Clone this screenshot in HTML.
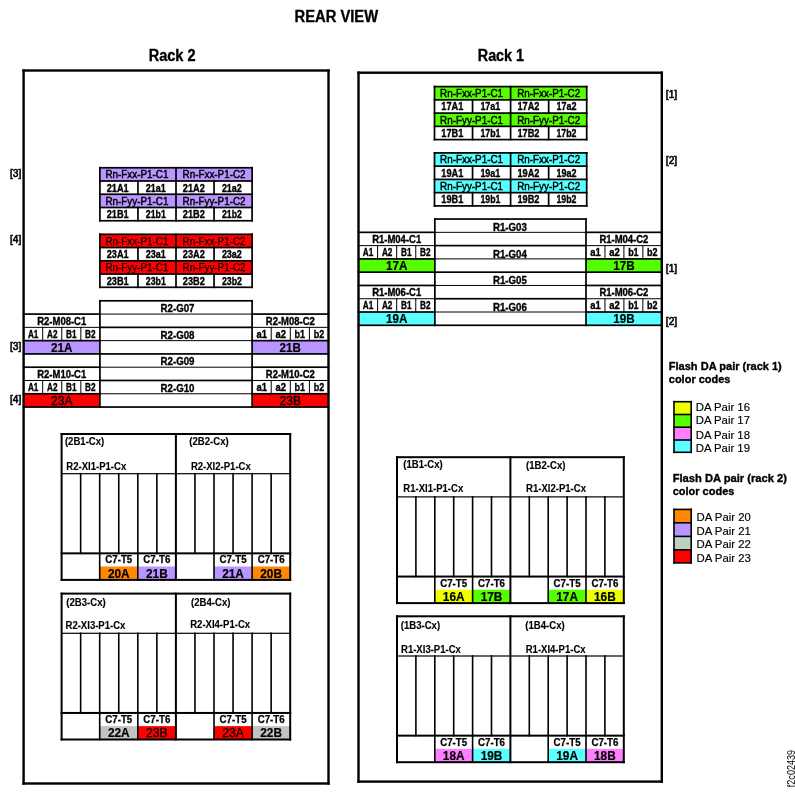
<!DOCTYPE html>
<html><head><meta charset="utf-8"><style>
html,body{margin:0;padding:0;background:#fff;}
svg{display:block;transform:translateZ(0);will-change:transform;}
text{font-family:"Liberation Sans",sans-serif;fill:#000;}
</style></head><body>
<svg width="795" height="796" viewBox="0 0 795 796">
<rect x="0" y="0" width="795" height="796" fill="#fff"/>
<text x="294.60" y="22.30" font-size="16" font-weight="bold" text-anchor="start" textLength="83.50" lengthAdjust="spacingAndGlyphs" stroke="#000" stroke-width="0.35">REAR VIEW</text>
<text x="148.70" y="60.80" font-size="16" font-weight="bold" text-anchor="start" textLength="46.80" lengthAdjust="spacingAndGlyphs" stroke="#000" stroke-width="0.35">Rack 2</text>
<text x="477.80" y="60.80" font-size="16" font-weight="bold" text-anchor="start" textLength="46.20" lengthAdjust="spacingAndGlyphs" stroke="#000" stroke-width="0.35">Rack 1</text>
<rect x="99.90" y="167.75" width="152.20" height="13.25" fill="#b995ff"/>
<rect x="99.90" y="194.25" width="152.20" height="13.25" fill="#b995ff"/>
<rect x="99.05" y="166.90" width="153.90" height="1.70" fill="#000"/>
<rect x="99.05" y="180.15" width="153.90" height="1.70" fill="#000"/>
<rect x="99.05" y="193.40" width="153.90" height="1.70" fill="#000"/>
<rect x="99.05" y="206.65" width="153.90" height="1.70" fill="#000"/>
<rect x="99.05" y="219.90" width="153.90" height="1.70" fill="#000"/>
<rect x="99.05" y="166.90" width="1.70" height="54.70" fill="#000"/>
<rect x="175.15" y="166.90" width="1.70" height="54.70" fill="#000"/>
<rect x="251.25" y="166.90" width="1.70" height="54.70" fill="#000"/>
<rect x="137.10" y="180.15" width="1.70" height="14.95" fill="#000"/>
<rect x="213.20" y="180.15" width="1.70" height="14.95" fill="#000"/>
<rect x="137.10" y="206.65" width="1.70" height="14.95" fill="#000"/>
<rect x="213.20" y="206.65" width="1.70" height="14.95" fill="#000"/>
<text x="136.95" y="178.15" font-size="10.6" text-anchor="middle" textLength="63.00" lengthAdjust="spacingAndGlyphs" stroke="#000" stroke-width="0.45">Rn-Fxx-P1-C1</text>
<text x="214.05" y="178.15" font-size="10.6" text-anchor="middle" textLength="63.00" lengthAdjust="spacingAndGlyphs" stroke="#000" stroke-width="0.45">Rn-Fxx-P1-C2</text>
<text x="136.95" y="204.65" font-size="10.6" text-anchor="middle" textLength="63.00" lengthAdjust="spacingAndGlyphs" stroke="#000" stroke-width="0.45">Rn-Fyy-P1-C1</text>
<text x="214.05" y="204.65" font-size="10.6" text-anchor="middle" textLength="63.00" lengthAdjust="spacingAndGlyphs" stroke="#000" stroke-width="0.45">Rn-Fyy-P1-C2</text>
<text x="117.72" y="191.60" font-size="10.3" font-weight="bold" text-anchor="middle" textLength="22.00" lengthAdjust="spacingAndGlyphs" stroke="#000" stroke-width="0.35">21A1</text>
<text x="155.78" y="191.60" font-size="10.3" font-weight="bold" text-anchor="middle" textLength="20.00" lengthAdjust="spacingAndGlyphs" stroke="#000" stroke-width="0.35">21a1</text>
<text x="193.83" y="191.60" font-size="10.3" font-weight="bold" text-anchor="middle" textLength="22.00" lengthAdjust="spacingAndGlyphs" stroke="#000" stroke-width="0.35">21A2</text>
<text x="231.88" y="191.60" font-size="10.3" font-weight="bold" text-anchor="middle" textLength="20.00" lengthAdjust="spacingAndGlyphs" stroke="#000" stroke-width="0.35">21a2</text>
<text x="117.72" y="218.10" font-size="10.3" font-weight="bold" text-anchor="middle" textLength="22.00" lengthAdjust="spacingAndGlyphs" stroke="#000" stroke-width="0.35">21B1</text>
<text x="155.78" y="218.10" font-size="10.3" font-weight="bold" text-anchor="middle" textLength="20.00" lengthAdjust="spacingAndGlyphs" stroke="#000" stroke-width="0.35">21b1</text>
<text x="193.83" y="218.10" font-size="10.3" font-weight="bold" text-anchor="middle" textLength="22.00" lengthAdjust="spacingAndGlyphs" stroke="#000" stroke-width="0.35">21B2</text>
<text x="231.88" y="218.10" font-size="10.3" font-weight="bold" text-anchor="middle" textLength="20.00" lengthAdjust="spacingAndGlyphs" stroke="#000" stroke-width="0.35">21b2</text>
<rect x="99.90" y="234.30" width="152.20" height="13.25" fill="#ff0000"/>
<rect x="99.90" y="260.80" width="152.20" height="13.25" fill="#ff0000"/>
<rect x="99.05" y="233.45" width="153.90" height="1.70" fill="#000"/>
<rect x="99.05" y="246.70" width="153.90" height="1.70" fill="#000"/>
<rect x="99.05" y="259.95" width="153.90" height="1.70" fill="#000"/>
<rect x="99.05" y="273.20" width="153.90" height="1.70" fill="#000"/>
<rect x="99.05" y="286.45" width="153.90" height="1.70" fill="#000"/>
<rect x="99.05" y="233.45" width="1.70" height="54.70" fill="#000"/>
<rect x="175.15" y="233.45" width="1.70" height="54.70" fill="#000"/>
<rect x="251.25" y="233.45" width="1.70" height="54.70" fill="#000"/>
<rect x="137.10" y="246.70" width="1.70" height="14.95" fill="#000"/>
<rect x="213.20" y="246.70" width="1.70" height="14.95" fill="#000"/>
<rect x="137.10" y="273.20" width="1.70" height="14.95" fill="#000"/>
<rect x="213.20" y="273.20" width="1.70" height="14.95" fill="#000"/>
<text x="136.95" y="244.70" font-size="10.6" text-anchor="middle" textLength="63.00" lengthAdjust="spacingAndGlyphs" stroke="#000" stroke-width="0.25">Rn-Fxx-P1-C1</text>
<text x="214.05" y="244.70" font-size="10.6" text-anchor="middle" textLength="63.00" lengthAdjust="spacingAndGlyphs" stroke="#000" stroke-width="0.25">Rn-Fxx-P1-C2</text>
<text x="136.95" y="271.20" font-size="10.6" text-anchor="middle" textLength="63.00" lengthAdjust="spacingAndGlyphs" stroke="#000" stroke-width="0.25">Rn-Fyy-P1-C1</text>
<text x="214.05" y="271.20" font-size="10.6" text-anchor="middle" textLength="63.00" lengthAdjust="spacingAndGlyphs" stroke="#000" stroke-width="0.25">Rn-Fyy-P1-C2</text>
<text x="117.72" y="258.15" font-size="10.3" font-weight="bold" text-anchor="middle" textLength="22.00" lengthAdjust="spacingAndGlyphs" stroke="#000" stroke-width="0.35">23A1</text>
<text x="155.78" y="258.15" font-size="10.3" font-weight="bold" text-anchor="middle" textLength="20.00" lengthAdjust="spacingAndGlyphs" stroke="#000" stroke-width="0.35">23a1</text>
<text x="193.83" y="258.15" font-size="10.3" font-weight="bold" text-anchor="middle" textLength="22.00" lengthAdjust="spacingAndGlyphs" stroke="#000" stroke-width="0.35">23A2</text>
<text x="231.88" y="258.15" font-size="10.3" font-weight="bold" text-anchor="middle" textLength="20.00" lengthAdjust="spacingAndGlyphs" stroke="#000" stroke-width="0.35">23a2</text>
<text x="117.72" y="284.65" font-size="10.3" font-weight="bold" text-anchor="middle" textLength="22.00" lengthAdjust="spacingAndGlyphs" stroke="#000" stroke-width="0.35">23B1</text>
<text x="155.78" y="284.65" font-size="10.3" font-weight="bold" text-anchor="middle" textLength="20.00" lengthAdjust="spacingAndGlyphs" stroke="#000" stroke-width="0.35">23b1</text>
<text x="193.83" y="284.65" font-size="10.3" font-weight="bold" text-anchor="middle" textLength="22.00" lengthAdjust="spacingAndGlyphs" stroke="#000" stroke-width="0.35">23B2</text>
<text x="231.88" y="284.65" font-size="10.3" font-weight="bold" text-anchor="middle" textLength="20.00" lengthAdjust="spacingAndGlyphs" stroke="#000" stroke-width="0.35">23b2</text>
<rect x="434.50" y="86.60" width="152.20" height="13.25" fill="#55ff00"/>
<rect x="434.50" y="113.10" width="152.20" height="13.25" fill="#55ff00"/>
<rect x="433.65" y="85.75" width="153.90" height="1.70" fill="#000"/>
<rect x="433.65" y="99.00" width="153.90" height="1.70" fill="#000"/>
<rect x="433.65" y="112.25" width="153.90" height="1.70" fill="#000"/>
<rect x="433.65" y="125.50" width="153.90" height="1.70" fill="#000"/>
<rect x="433.65" y="138.75" width="153.90" height="1.70" fill="#000"/>
<rect x="433.65" y="85.75" width="1.70" height="54.70" fill="#000"/>
<rect x="509.75" y="85.75" width="1.70" height="54.70" fill="#000"/>
<rect x="585.85" y="85.75" width="1.70" height="54.70" fill="#000"/>
<rect x="471.70" y="99.00" width="1.70" height="14.95" fill="#000"/>
<rect x="547.80" y="99.00" width="1.70" height="14.95" fill="#000"/>
<rect x="471.70" y="125.50" width="1.70" height="14.95" fill="#000"/>
<rect x="547.80" y="125.50" width="1.70" height="14.95" fill="#000"/>
<text x="471.55" y="97.00" font-size="10.6" text-anchor="middle" textLength="63.00" lengthAdjust="spacingAndGlyphs" stroke="#000" stroke-width="0.45">Rn-Fxx-P1-C1</text>
<text x="548.65" y="97.00" font-size="10.6" text-anchor="middle" textLength="63.00" lengthAdjust="spacingAndGlyphs" stroke="#000" stroke-width="0.45">Rn-Fxx-P1-C2</text>
<text x="471.55" y="123.50" font-size="10.6" text-anchor="middle" textLength="63.00" lengthAdjust="spacingAndGlyphs" stroke="#000" stroke-width="0.45">Rn-Fyy-P1-C1</text>
<text x="548.65" y="123.50" font-size="10.6" text-anchor="middle" textLength="63.00" lengthAdjust="spacingAndGlyphs" stroke="#000" stroke-width="0.45">Rn-Fyy-P1-C2</text>
<text x="452.32" y="110.45" font-size="10.3" font-weight="bold" text-anchor="middle" textLength="22.00" lengthAdjust="spacingAndGlyphs" stroke="#000" stroke-width="0.35">17A1</text>
<text x="490.38" y="110.45" font-size="10.3" font-weight="bold" text-anchor="middle" textLength="20.00" lengthAdjust="spacingAndGlyphs" stroke="#000" stroke-width="0.35">17a1</text>
<text x="528.42" y="110.45" font-size="10.3" font-weight="bold" text-anchor="middle" textLength="22.00" lengthAdjust="spacingAndGlyphs" stroke="#000" stroke-width="0.35">17A2</text>
<text x="566.47" y="110.45" font-size="10.3" font-weight="bold" text-anchor="middle" textLength="20.00" lengthAdjust="spacingAndGlyphs" stroke="#000" stroke-width="0.35">17a2</text>
<text x="452.32" y="136.95" font-size="10.3" font-weight="bold" text-anchor="middle" textLength="22.00" lengthAdjust="spacingAndGlyphs" stroke="#000" stroke-width="0.35">17B1</text>
<text x="490.38" y="136.95" font-size="10.3" font-weight="bold" text-anchor="middle" textLength="20.00" lengthAdjust="spacingAndGlyphs" stroke="#000" stroke-width="0.35">17b1</text>
<text x="528.42" y="136.95" font-size="10.3" font-weight="bold" text-anchor="middle" textLength="22.00" lengthAdjust="spacingAndGlyphs" stroke="#000" stroke-width="0.35">17B2</text>
<text x="566.47" y="136.95" font-size="10.3" font-weight="bold" text-anchor="middle" textLength="20.00" lengthAdjust="spacingAndGlyphs" stroke="#000" stroke-width="0.35">17b2</text>
<rect x="434.50" y="152.90" width="152.20" height="13.25" fill="#5affff"/>
<rect x="434.50" y="179.40" width="152.20" height="13.25" fill="#5affff"/>
<rect x="433.65" y="152.05" width="153.90" height="1.70" fill="#000"/>
<rect x="433.65" y="165.30" width="153.90" height="1.70" fill="#000"/>
<rect x="433.65" y="178.55" width="153.90" height="1.70" fill="#000"/>
<rect x="433.65" y="191.80" width="153.90" height="1.70" fill="#000"/>
<rect x="433.65" y="205.05" width="153.90" height="1.70" fill="#000"/>
<rect x="433.65" y="152.05" width="1.70" height="54.70" fill="#000"/>
<rect x="509.75" y="152.05" width="1.70" height="54.70" fill="#000"/>
<rect x="585.85" y="152.05" width="1.70" height="54.70" fill="#000"/>
<rect x="471.70" y="165.30" width="1.70" height="14.95" fill="#000"/>
<rect x="547.80" y="165.30" width="1.70" height="14.95" fill="#000"/>
<rect x="471.70" y="191.80" width="1.70" height="14.95" fill="#000"/>
<rect x="547.80" y="191.80" width="1.70" height="14.95" fill="#000"/>
<text x="471.55" y="163.30" font-size="10.6" text-anchor="middle" textLength="63.00" lengthAdjust="spacingAndGlyphs" stroke="#000" stroke-width="0.45">Rn-Fxx-P1-C1</text>
<text x="548.65" y="163.30" font-size="10.6" text-anchor="middle" textLength="63.00" lengthAdjust="spacingAndGlyphs" stroke="#000" stroke-width="0.45">Rn-Fxx-P1-C2</text>
<text x="471.55" y="189.80" font-size="10.6" text-anchor="middle" textLength="63.00" lengthAdjust="spacingAndGlyphs" stroke="#000" stroke-width="0.45">Rn-Fyy-P1-C1</text>
<text x="548.65" y="189.80" font-size="10.6" text-anchor="middle" textLength="63.00" lengthAdjust="spacingAndGlyphs" stroke="#000" stroke-width="0.45">Rn-Fyy-P1-C2</text>
<text x="452.32" y="176.75" font-size="10.3" font-weight="bold" text-anchor="middle" textLength="22.00" lengthAdjust="spacingAndGlyphs" stroke="#000" stroke-width="0.35">19A1</text>
<text x="490.38" y="176.75" font-size="10.3" font-weight="bold" text-anchor="middle" textLength="20.00" lengthAdjust="spacingAndGlyphs" stroke="#000" stroke-width="0.35">19a1</text>
<text x="528.42" y="176.75" font-size="10.3" font-weight="bold" text-anchor="middle" textLength="22.00" lengthAdjust="spacingAndGlyphs" stroke="#000" stroke-width="0.35">19A2</text>
<text x="566.47" y="176.75" font-size="10.3" font-weight="bold" text-anchor="middle" textLength="20.00" lengthAdjust="spacingAndGlyphs" stroke="#000" stroke-width="0.35">19a2</text>
<text x="452.32" y="203.25" font-size="10.3" font-weight="bold" text-anchor="middle" textLength="22.00" lengthAdjust="spacingAndGlyphs" stroke="#000" stroke-width="0.35">19B1</text>
<text x="490.38" y="203.25" font-size="10.3" font-weight="bold" text-anchor="middle" textLength="20.00" lengthAdjust="spacingAndGlyphs" stroke="#000" stroke-width="0.35">19b1</text>
<text x="528.42" y="203.25" font-size="10.3" font-weight="bold" text-anchor="middle" textLength="22.00" lengthAdjust="spacingAndGlyphs" stroke="#000" stroke-width="0.35">19B2</text>
<text x="566.47" y="203.25" font-size="10.3" font-weight="bold" text-anchor="middle" textLength="20.00" lengthAdjust="spacingAndGlyphs" stroke="#000" stroke-width="0.35">19b2</text>
<rect x="23.60" y="340.64" width="76.30" height="13.28" fill="#b995ff"/>
<rect x="252.10" y="340.64" width="76.40" height="13.28" fill="#b995ff"/>
<rect x="23.60" y="393.76" width="76.30" height="13.28" fill="#ff0000"/>
<rect x="252.10" y="393.76" width="76.40" height="13.28" fill="#ff0000"/>
<rect x="99.05" y="299.95" width="153.90" height="1.70" fill="#000"/>
<rect x="99.40" y="313.58" width="153.20" height="1.00" fill="#000"/>
<rect x="99.05" y="326.51" width="153.90" height="1.70" fill="#000"/>
<rect x="99.40" y="340.14" width="153.20" height="1.00" fill="#000"/>
<rect x="99.05" y="353.07" width="153.90" height="1.70" fill="#000"/>
<rect x="99.40" y="366.70" width="153.20" height="1.00" fill="#000"/>
<rect x="99.05" y="379.63" width="153.90" height="1.70" fill="#000"/>
<rect x="99.40" y="393.26" width="153.20" height="1.00" fill="#000"/>
<rect x="99.05" y="406.19" width="153.90" height="1.70" fill="#000"/>
<rect x="99.05" y="299.95" width="1.70" height="107.94" fill="#000"/>
<rect x="251.25" y="299.95" width="1.70" height="107.94" fill="#000"/>
<text x="177.50" y="312.00" font-size="11" font-weight="bold" text-anchor="middle" textLength="34.00" lengthAdjust="spacingAndGlyphs" stroke="#000" stroke-width="0.35">R2-G07</text>
<text x="177.50" y="338.56" font-size="11" font-weight="bold" text-anchor="middle" textLength="34.00" lengthAdjust="spacingAndGlyphs" stroke="#000" stroke-width="0.35">R2-G08</text>
<text x="177.50" y="365.12" font-size="11" font-weight="bold" text-anchor="middle" textLength="34.00" lengthAdjust="spacingAndGlyphs" stroke="#000" stroke-width="0.35">R2-G09</text>
<text x="177.50" y="391.68" font-size="11" font-weight="bold" text-anchor="middle" textLength="34.00" lengthAdjust="spacingAndGlyphs" stroke="#000" stroke-width="0.35">R2-G10</text>
<rect x="22.75" y="313.23" width="78.00" height="1.70" fill="#000"/>
<rect x="23.10" y="326.86" width="77.30" height="1.00" fill="#000"/>
<rect x="22.75" y="339.79" width="78.00" height="1.70" fill="#000"/>
<rect x="22.75" y="353.07" width="78.00" height="1.70" fill="#000"/>
<rect x="22.75" y="366.35" width="78.00" height="1.70" fill="#000"/>
<rect x="23.10" y="379.98" width="77.30" height="1.00" fill="#000"/>
<rect x="22.75" y="392.91" width="78.00" height="1.70" fill="#000"/>
<rect x="22.75" y="406.19" width="78.00" height="1.70" fill="#000"/>
<text x="61.75" y="324.68" font-size="10" font-weight="bold" text-anchor="middle" textLength="49.00" lengthAdjust="spacingAndGlyphs" stroke="#000" stroke-width="0.35">R2-M08-C1</text>
<rect x="42.18" y="326.86" width="1.00" height="14.28" fill="#000"/>
<rect x="61.25" y="326.86" width="1.00" height="14.28" fill="#000"/>
<rect x="80.33" y="326.86" width="1.00" height="14.28" fill="#000"/>
<text x="33.14" y="337.96" font-size="10" font-weight="bold" text-anchor="middle" textLength="10.50" lengthAdjust="spacingAndGlyphs" stroke="#000" stroke-width="0.35">A1</text>
<text x="52.21" y="337.96" font-size="10" font-weight="bold" text-anchor="middle" textLength="10.50" lengthAdjust="spacingAndGlyphs" stroke="#000" stroke-width="0.35">A2</text>
<text x="71.29" y="337.96" font-size="10" font-weight="bold" text-anchor="middle" textLength="10.50" lengthAdjust="spacingAndGlyphs" stroke="#000" stroke-width="0.35">B1</text>
<text x="90.36" y="337.96" font-size="10" font-weight="bold" text-anchor="middle" textLength="10.50" lengthAdjust="spacingAndGlyphs" stroke="#000" stroke-width="0.35">B2</text>
<text x="61.75" y="351.94" font-size="12.5" font-weight="bold" text-anchor="middle" textLength="21.40" lengthAdjust="spacingAndGlyphs" stroke="#000" stroke-width="0.2">21A</text>
<text x="61.75" y="377.80" font-size="10" font-weight="bold" text-anchor="middle" textLength="49.00" lengthAdjust="spacingAndGlyphs" stroke="#000" stroke-width="0.35">R2-M10-C1</text>
<rect x="42.18" y="379.98" width="1.00" height="14.28" fill="#000"/>
<rect x="61.25" y="379.98" width="1.00" height="14.28" fill="#000"/>
<rect x="80.33" y="379.98" width="1.00" height="14.28" fill="#000"/>
<text x="33.14" y="391.08" font-size="10" font-weight="bold" text-anchor="middle" textLength="10.50" lengthAdjust="spacingAndGlyphs" stroke="#000" stroke-width="0.35">A1</text>
<text x="52.21" y="391.08" font-size="10" font-weight="bold" text-anchor="middle" textLength="10.50" lengthAdjust="spacingAndGlyphs" stroke="#000" stroke-width="0.35">A2</text>
<text x="71.29" y="391.08" font-size="10" font-weight="bold" text-anchor="middle" textLength="10.50" lengthAdjust="spacingAndGlyphs" stroke="#000" stroke-width="0.35">B1</text>
<text x="90.36" y="391.08" font-size="10" font-weight="bold" text-anchor="middle" textLength="10.50" lengthAdjust="spacingAndGlyphs" stroke="#000" stroke-width="0.35">B2</text>
<text x="61.75" y="405.06" font-size="12.5" text-anchor="middle" textLength="21.40" lengthAdjust="spacingAndGlyphs" stroke="#000" stroke-width="0.4">23A</text>
<rect x="251.25" y="313.23" width="78.10" height="1.70" fill="#000"/>
<rect x="251.60" y="326.86" width="77.40" height="1.00" fill="#000"/>
<rect x="251.25" y="339.79" width="78.10" height="1.70" fill="#000"/>
<rect x="251.25" y="353.07" width="78.10" height="1.70" fill="#000"/>
<rect x="251.25" y="366.35" width="78.10" height="1.70" fill="#000"/>
<rect x="251.60" y="379.98" width="77.40" height="1.00" fill="#000"/>
<rect x="251.25" y="392.91" width="78.10" height="1.70" fill="#000"/>
<rect x="251.25" y="406.19" width="78.10" height="1.70" fill="#000"/>
<text x="290.30" y="324.68" font-size="10" font-weight="bold" text-anchor="middle" textLength="49.00" lengthAdjust="spacingAndGlyphs" stroke="#000" stroke-width="0.35">R2-M08-C2</text>
<rect x="270.70" y="326.86" width="1.00" height="14.28" fill="#000"/>
<rect x="289.80" y="326.86" width="1.00" height="14.28" fill="#000"/>
<rect x="308.90" y="326.86" width="1.00" height="14.28" fill="#000"/>
<text x="261.65" y="337.96" font-size="10" font-weight="bold" text-anchor="middle" textLength="10.50" lengthAdjust="spacingAndGlyphs" stroke="#000" stroke-width="0.35">a1</text>
<text x="280.75" y="337.96" font-size="10" font-weight="bold" text-anchor="middle" textLength="10.50" lengthAdjust="spacingAndGlyphs" stroke="#000" stroke-width="0.35">a2</text>
<text x="299.85" y="337.96" font-size="10" font-weight="bold" text-anchor="middle" textLength="10.50" lengthAdjust="spacingAndGlyphs" stroke="#000" stroke-width="0.35">b1</text>
<text x="318.95" y="337.96" font-size="10" font-weight="bold" text-anchor="middle" textLength="10.50" lengthAdjust="spacingAndGlyphs" stroke="#000" stroke-width="0.35">b2</text>
<text x="290.30" y="351.94" font-size="12.5" font-weight="bold" text-anchor="middle" textLength="21.40" lengthAdjust="spacingAndGlyphs" stroke="#000" stroke-width="0.2">21B</text>
<text x="290.30" y="377.80" font-size="10" font-weight="bold" text-anchor="middle" textLength="49.00" lengthAdjust="spacingAndGlyphs" stroke="#000" stroke-width="0.35">R2-M10-C2</text>
<rect x="270.70" y="379.98" width="1.00" height="14.28" fill="#000"/>
<rect x="289.80" y="379.98" width="1.00" height="14.28" fill="#000"/>
<rect x="308.90" y="379.98" width="1.00" height="14.28" fill="#000"/>
<text x="261.65" y="391.08" font-size="10" font-weight="bold" text-anchor="middle" textLength="10.50" lengthAdjust="spacingAndGlyphs" stroke="#000" stroke-width="0.35">a1</text>
<text x="280.75" y="391.08" font-size="10" font-weight="bold" text-anchor="middle" textLength="10.50" lengthAdjust="spacingAndGlyphs" stroke="#000" stroke-width="0.35">a2</text>
<text x="299.85" y="391.08" font-size="10" font-weight="bold" text-anchor="middle" textLength="10.50" lengthAdjust="spacingAndGlyphs" stroke="#000" stroke-width="0.35">b1</text>
<text x="318.95" y="391.08" font-size="10" font-weight="bold" text-anchor="middle" textLength="10.50" lengthAdjust="spacingAndGlyphs" stroke="#000" stroke-width="0.35">b2</text>
<text x="290.30" y="405.06" font-size="12.5" text-anchor="middle" textLength="21.40" lengthAdjust="spacingAndGlyphs" stroke="#000" stroke-width="0.4">23B</text>
<rect x="358.50" y="258.89" width="76.35" height="13.28" fill="#55ff00"/>
<rect x="586.00" y="258.89" width="75.80" height="13.28" fill="#55ff00"/>
<rect x="358.50" y="312.01" width="76.35" height="13.28" fill="#5affff"/>
<rect x="586.00" y="312.01" width="75.80" height="13.28" fill="#5affff"/>
<rect x="434.00" y="218.20" width="152.85" height="1.70" fill="#000"/>
<rect x="434.35" y="231.83" width="152.15" height="1.00" fill="#000"/>
<rect x="434.00" y="244.76" width="152.85" height="1.70" fill="#000"/>
<rect x="434.35" y="258.39" width="152.15" height="1.00" fill="#000"/>
<rect x="434.00" y="271.32" width="152.85" height="1.70" fill="#000"/>
<rect x="434.35" y="284.95" width="152.15" height="1.00" fill="#000"/>
<rect x="434.00" y="297.88" width="152.85" height="1.70" fill="#000"/>
<rect x="434.35" y="311.51" width="152.15" height="1.00" fill="#000"/>
<rect x="434.00" y="324.44" width="152.85" height="1.70" fill="#000"/>
<rect x="434.00" y="218.20" width="1.70" height="107.94" fill="#000"/>
<rect x="585.15" y="218.20" width="1.70" height="107.94" fill="#000"/>
<text x="509.93" y="231.35" font-size="11" font-weight="bold" text-anchor="middle" textLength="34.00" lengthAdjust="spacingAndGlyphs" stroke="#000" stroke-width="0.35">R1-G03</text>
<text x="509.93" y="257.91" font-size="11" font-weight="bold" text-anchor="middle" textLength="34.00" lengthAdjust="spacingAndGlyphs" stroke="#000" stroke-width="0.35">R1-G04</text>
<text x="509.93" y="284.47" font-size="11" font-weight="bold" text-anchor="middle" textLength="34.00" lengthAdjust="spacingAndGlyphs" stroke="#000" stroke-width="0.35">R1-G05</text>
<text x="509.93" y="311.03" font-size="11" font-weight="bold" text-anchor="middle" textLength="34.00" lengthAdjust="spacingAndGlyphs" stroke="#000" stroke-width="0.35">R1-G06</text>
<rect x="357.65" y="231.48" width="78.05" height="1.70" fill="#000"/>
<rect x="358.00" y="245.11" width="77.35" height="1.00" fill="#000"/>
<rect x="357.65" y="258.04" width="78.05" height="1.70" fill="#000"/>
<rect x="357.65" y="271.32" width="78.05" height="1.70" fill="#000"/>
<rect x="357.65" y="284.60" width="78.05" height="1.70" fill="#000"/>
<rect x="358.00" y="298.23" width="77.35" height="1.00" fill="#000"/>
<rect x="357.65" y="311.16" width="78.05" height="1.70" fill="#000"/>
<rect x="357.65" y="324.44" width="78.05" height="1.70" fill="#000"/>
<text x="396.68" y="242.93" font-size="10" font-weight="bold" text-anchor="middle" textLength="49.00" lengthAdjust="spacingAndGlyphs" stroke="#000" stroke-width="0.35">R1-M04-C1</text>
<rect x="377.09" y="245.11" width="1.00" height="14.28" fill="#000"/>
<rect x="396.18" y="245.11" width="1.00" height="14.28" fill="#000"/>
<rect x="415.26" y="245.11" width="1.00" height="14.28" fill="#000"/>
<text x="368.04" y="256.21" font-size="10" font-weight="bold" text-anchor="middle" textLength="10.50" lengthAdjust="spacingAndGlyphs" stroke="#000" stroke-width="0.35">A1</text>
<text x="387.13" y="256.21" font-size="10" font-weight="bold" text-anchor="middle" textLength="10.50" lengthAdjust="spacingAndGlyphs" stroke="#000" stroke-width="0.35">A2</text>
<text x="406.22" y="256.21" font-size="10" font-weight="bold" text-anchor="middle" textLength="10.50" lengthAdjust="spacingAndGlyphs" stroke="#000" stroke-width="0.35">B1</text>
<text x="425.31" y="256.21" font-size="10" font-weight="bold" text-anchor="middle" textLength="10.50" lengthAdjust="spacingAndGlyphs" stroke="#000" stroke-width="0.35">B2</text>
<text x="396.68" y="270.19" font-size="12.5" font-weight="bold" text-anchor="middle" textLength="21.40" lengthAdjust="spacingAndGlyphs" stroke="#000" stroke-width="0.2">17A</text>
<text x="396.68" y="296.05" font-size="10" font-weight="bold" text-anchor="middle" textLength="49.00" lengthAdjust="spacingAndGlyphs" stroke="#000" stroke-width="0.35">R1-M06-C1</text>
<rect x="377.09" y="298.23" width="1.00" height="14.28" fill="#000"/>
<rect x="396.18" y="298.23" width="1.00" height="14.28" fill="#000"/>
<rect x="415.26" y="298.23" width="1.00" height="14.28" fill="#000"/>
<text x="368.04" y="309.33" font-size="10" font-weight="bold" text-anchor="middle" textLength="10.50" lengthAdjust="spacingAndGlyphs" stroke="#000" stroke-width="0.35">A1</text>
<text x="387.13" y="309.33" font-size="10" font-weight="bold" text-anchor="middle" textLength="10.50" lengthAdjust="spacingAndGlyphs" stroke="#000" stroke-width="0.35">A2</text>
<text x="406.22" y="309.33" font-size="10" font-weight="bold" text-anchor="middle" textLength="10.50" lengthAdjust="spacingAndGlyphs" stroke="#000" stroke-width="0.35">B1</text>
<text x="425.31" y="309.33" font-size="10" font-weight="bold" text-anchor="middle" textLength="10.50" lengthAdjust="spacingAndGlyphs" stroke="#000" stroke-width="0.35">B2</text>
<text x="396.68" y="323.31" font-size="12.5" font-weight="bold" text-anchor="middle" textLength="21.40" lengthAdjust="spacingAndGlyphs" stroke="#000" stroke-width="0.2">19A</text>
<rect x="585.15" y="231.48" width="77.50" height="1.70" fill="#000"/>
<rect x="585.50" y="245.11" width="76.80" height="1.00" fill="#000"/>
<rect x="585.15" y="258.04" width="77.50" height="1.70" fill="#000"/>
<rect x="585.15" y="271.32" width="77.50" height="1.70" fill="#000"/>
<rect x="585.15" y="284.60" width="77.50" height="1.70" fill="#000"/>
<rect x="585.50" y="298.23" width="76.80" height="1.00" fill="#000"/>
<rect x="585.15" y="311.16" width="77.50" height="1.70" fill="#000"/>
<rect x="585.15" y="324.44" width="77.50" height="1.70" fill="#000"/>
<text x="623.90" y="242.93" font-size="10" font-weight="bold" text-anchor="middle" textLength="49.00" lengthAdjust="spacingAndGlyphs" stroke="#000" stroke-width="0.35">R1-M04-C2</text>
<rect x="604.45" y="245.11" width="1.00" height="14.28" fill="#000"/>
<rect x="623.40" y="245.11" width="1.00" height="14.28" fill="#000"/>
<rect x="642.35" y="245.11" width="1.00" height="14.28" fill="#000"/>
<text x="595.48" y="256.21" font-size="10" font-weight="bold" text-anchor="middle" textLength="10.50" lengthAdjust="spacingAndGlyphs" stroke="#000" stroke-width="0.35">a1</text>
<text x="614.42" y="256.21" font-size="10" font-weight="bold" text-anchor="middle" textLength="10.50" lengthAdjust="spacingAndGlyphs" stroke="#000" stroke-width="0.35">a2</text>
<text x="633.38" y="256.21" font-size="10" font-weight="bold" text-anchor="middle" textLength="10.50" lengthAdjust="spacingAndGlyphs" stroke="#000" stroke-width="0.35">b1</text>
<text x="652.32" y="256.21" font-size="10" font-weight="bold" text-anchor="middle" textLength="10.50" lengthAdjust="spacingAndGlyphs" stroke="#000" stroke-width="0.35">b2</text>
<text x="623.90" y="270.19" font-size="12.5" font-weight="bold" text-anchor="middle" textLength="21.40" lengthAdjust="spacingAndGlyphs" stroke="#000" stroke-width="0.2">17B</text>
<text x="623.90" y="296.05" font-size="10" font-weight="bold" text-anchor="middle" textLength="49.00" lengthAdjust="spacingAndGlyphs" stroke="#000" stroke-width="0.35">R1-M06-C2</text>
<rect x="604.45" y="298.23" width="1.00" height="14.28" fill="#000"/>
<rect x="623.40" y="298.23" width="1.00" height="14.28" fill="#000"/>
<rect x="642.35" y="298.23" width="1.00" height="14.28" fill="#000"/>
<text x="595.48" y="309.33" font-size="10" font-weight="bold" text-anchor="middle" textLength="10.50" lengthAdjust="spacingAndGlyphs" stroke="#000" stroke-width="0.35">a1</text>
<text x="614.42" y="309.33" font-size="10" font-weight="bold" text-anchor="middle" textLength="10.50" lengthAdjust="spacingAndGlyphs" stroke="#000" stroke-width="0.35">a2</text>
<text x="633.38" y="309.33" font-size="10" font-weight="bold" text-anchor="middle" textLength="10.50" lengthAdjust="spacingAndGlyphs" stroke="#000" stroke-width="0.35">b1</text>
<text x="652.32" y="309.33" font-size="10" font-weight="bold" text-anchor="middle" textLength="10.50" lengthAdjust="spacingAndGlyphs" stroke="#000" stroke-width="0.35">b2</text>
<text x="623.90" y="323.31" font-size="12.5" font-weight="bold" text-anchor="middle" textLength="21.40" lengthAdjust="spacingAndGlyphs" stroke="#000" stroke-width="0.2">19B</text>
<text x="9.90" y="177.40" font-size="10.5" text-anchor="start" textLength="11.40" lengthAdjust="spacingAndGlyphs" stroke="#000" stroke-width="0.6">[3]</text>
<text x="9.90" y="243.20" font-size="10.5" text-anchor="start" textLength="11.40" lengthAdjust="spacingAndGlyphs" stroke="#000" stroke-width="0.6">[4]</text>
<text x="9.90" y="350.30" font-size="10.5" text-anchor="start" textLength="11.40" lengthAdjust="spacingAndGlyphs" stroke="#000" stroke-width="0.6">[3]</text>
<text x="9.90" y="403.40" font-size="10.5" text-anchor="start" textLength="11.40" lengthAdjust="spacingAndGlyphs" stroke="#000" stroke-width="0.6">[4]</text>
<text x="665.80" y="97.60" font-size="10.5" text-anchor="start" textLength="11.40" lengthAdjust="spacingAndGlyphs" stroke="#000" stroke-width="0.6">[1]</text>
<text x="665.80" y="163.90" font-size="10.5" text-anchor="start" textLength="11.40" lengthAdjust="spacingAndGlyphs" stroke="#000" stroke-width="0.6">[2]</text>
<text x="665.80" y="271.70" font-size="10.5" text-anchor="start" textLength="11.40" lengthAdjust="spacingAndGlyphs" stroke="#000" stroke-width="0.6">[1]</text>
<text x="665.80" y="325.30" font-size="10.5" text-anchor="start" textLength="11.40" lengthAdjust="spacingAndGlyphs" stroke="#000" stroke-width="0.6">[2]</text>
<rect x="99.70" y="566.50" width="38.10" height="13.40" fill="#ff8800"/>
<rect x="137.80" y="566.50" width="38.10" height="13.40" fill="#b995ff"/>
<rect x="214.00" y="566.50" width="38.10" height="13.40" fill="#b995ff"/>
<rect x="252.10" y="566.50" width="38.10" height="13.40" fill="#ff8800"/>
<rect x="60.60" y="433.00" width="230.60" height="2.00" fill="#000"/>
<rect x="60.60" y="578.90" width="230.60" height="2.00" fill="#000"/>
<rect x="60.60" y="433.00" width="2.00" height="147.90" fill="#000"/>
<rect x="289.20" y="433.00" width="2.00" height="147.90" fill="#000"/>
<rect x="174.90" y="433.00" width="2.00" height="147.90" fill="#000"/>
<rect x="61.00" y="473.10" width="229.80" height="1.20" fill="#000"/>
<rect x="60.60" y="552.35" width="230.60" height="2.00" fill="#000"/>
<rect x="79.85" y="472.90" width="1.60" height="81.25" fill="#000"/>
<rect x="98.90" y="472.90" width="1.60" height="81.25" fill="#000"/>
<rect x="117.95" y="472.90" width="1.60" height="81.25" fill="#000"/>
<rect x="137.00" y="472.90" width="1.60" height="81.25" fill="#000"/>
<rect x="156.05" y="472.90" width="1.60" height="81.25" fill="#000"/>
<rect x="98.90" y="552.55" width="1.60" height="28.15" fill="#000"/>
<rect x="137.00" y="552.55" width="1.60" height="28.15" fill="#000"/>
<text x="64.90" y="444.70" font-size="10" font-weight="bold" text-anchor="start" textLength="39.40" lengthAdjust="spacingAndGlyphs" stroke="#000" stroke-width="0.12">(2B1-Cx)</text>
<text x="66.30" y="469.80" font-size="10" font-weight="bold" text-anchor="start" textLength="59.90" lengthAdjust="spacingAndGlyphs" stroke="#000" stroke-width="0.12">R2-XI1-P1-Cx</text>
<text x="118.75" y="563.30" font-size="10" font-weight="bold" text-anchor="middle" textLength="27.00" lengthAdjust="spacingAndGlyphs" stroke="#000" stroke-width="0.25">C7-T5</text>
<text x="156.85" y="563.30" font-size="10" font-weight="bold" text-anchor="middle" textLength="27.00" lengthAdjust="spacingAndGlyphs" stroke="#000" stroke-width="0.25">C7-T6</text>
<text x="118.75" y="577.70" font-size="12.5" font-weight="bold" text-anchor="middle" textLength="21.70" lengthAdjust="spacingAndGlyphs" stroke="#000" stroke-width="0.2">20A</text>
<text x="156.85" y="577.70" font-size="12.5" font-weight="bold" text-anchor="middle" textLength="21.70" lengthAdjust="spacingAndGlyphs" stroke="#000" stroke-width="0.2">21B</text>
<rect x="194.15" y="472.90" width="1.60" height="81.25" fill="#000"/>
<rect x="213.20" y="472.90" width="1.60" height="81.25" fill="#000"/>
<rect x="232.25" y="472.90" width="1.60" height="81.25" fill="#000"/>
<rect x="251.30" y="472.90" width="1.60" height="81.25" fill="#000"/>
<rect x="270.35" y="472.90" width="1.60" height="81.25" fill="#000"/>
<rect x="213.20" y="552.55" width="1.60" height="28.15" fill="#000"/>
<rect x="251.30" y="552.55" width="1.60" height="28.15" fill="#000"/>
<text x="189.30" y="444.70" font-size="10" font-weight="bold" text-anchor="start" textLength="39.40" lengthAdjust="spacingAndGlyphs" stroke="#000" stroke-width="0.12">(2B2-Cx)</text>
<text x="190.90" y="469.80" font-size="10" font-weight="bold" text-anchor="start" textLength="59.90" lengthAdjust="spacingAndGlyphs" stroke="#000" stroke-width="0.12">R2-XI2-P1-Cx</text>
<text x="233.05" y="563.30" font-size="10" font-weight="bold" text-anchor="middle" textLength="27.00" lengthAdjust="spacingAndGlyphs" stroke="#000" stroke-width="0.25">C7-T5</text>
<text x="271.15" y="563.30" font-size="10" font-weight="bold" text-anchor="middle" textLength="27.00" lengthAdjust="spacingAndGlyphs" stroke="#000" stroke-width="0.25">C7-T6</text>
<text x="233.05" y="577.70" font-size="12.5" font-weight="bold" text-anchor="middle" textLength="21.70" lengthAdjust="spacingAndGlyphs" stroke="#000" stroke-width="0.2">21A</text>
<text x="271.15" y="577.70" font-size="12.5" font-weight="bold" text-anchor="middle" textLength="21.70" lengthAdjust="spacingAndGlyphs" stroke="#000" stroke-width="0.2">20B</text>
<rect x="99.70" y="726.10" width="38.10" height="13.40" fill="#c3c3c3"/>
<rect x="137.80" y="726.10" width="38.10" height="13.40" fill="#ff0000"/>
<rect x="214.00" y="726.10" width="38.10" height="13.40" fill="#ff0000"/>
<rect x="252.10" y="726.10" width="38.10" height="13.40" fill="#c3c3c3"/>
<rect x="60.60" y="592.60" width="230.60" height="2.00" fill="#000"/>
<rect x="60.60" y="738.50" width="230.60" height="2.00" fill="#000"/>
<rect x="60.60" y="592.60" width="2.00" height="147.90" fill="#000"/>
<rect x="289.20" y="592.60" width="2.00" height="147.90" fill="#000"/>
<rect x="174.90" y="592.60" width="2.00" height="147.90" fill="#000"/>
<rect x="61.00" y="632.70" width="229.80" height="1.20" fill="#000"/>
<rect x="60.60" y="711.95" width="230.60" height="2.00" fill="#000"/>
<rect x="79.85" y="632.50" width="1.60" height="81.25" fill="#000"/>
<rect x="98.90" y="632.50" width="1.60" height="81.25" fill="#000"/>
<rect x="117.95" y="632.50" width="1.60" height="81.25" fill="#000"/>
<rect x="137.00" y="632.50" width="1.60" height="81.25" fill="#000"/>
<rect x="156.05" y="632.50" width="1.60" height="81.25" fill="#000"/>
<rect x="98.90" y="712.15" width="1.60" height="28.15" fill="#000"/>
<rect x="137.00" y="712.15" width="1.60" height="28.15" fill="#000"/>
<text x="66.30" y="606.10" font-size="10" font-weight="bold" text-anchor="start" textLength="39.40" lengthAdjust="spacingAndGlyphs" stroke="#000" stroke-width="0.12">(2B3-Cx)</text>
<text x="65.50" y="629.10" font-size="10" font-weight="bold" text-anchor="start" textLength="59.90" lengthAdjust="spacingAndGlyphs" stroke="#000" stroke-width="0.12">R2-XI3-P1-Cx</text>
<text x="118.75" y="722.90" font-size="10" font-weight="bold" text-anchor="middle" textLength="27.00" lengthAdjust="spacingAndGlyphs" stroke="#000" stroke-width="0.25">C7-T5</text>
<text x="156.85" y="722.90" font-size="10" font-weight="bold" text-anchor="middle" textLength="27.00" lengthAdjust="spacingAndGlyphs" stroke="#000" stroke-width="0.25">C7-T6</text>
<text x="118.75" y="737.30" font-size="12.5" font-weight="bold" text-anchor="middle" textLength="21.70" lengthAdjust="spacingAndGlyphs" stroke="#000" stroke-width="0.2">22A</text>
<text x="156.85" y="737.30" font-size="12.5" text-anchor="middle" textLength="21.70" lengthAdjust="spacingAndGlyphs" stroke="#000" stroke-width="0.3">23B</text>
<rect x="194.15" y="632.50" width="1.60" height="81.25" fill="#000"/>
<rect x="213.20" y="632.50" width="1.60" height="81.25" fill="#000"/>
<rect x="232.25" y="632.50" width="1.60" height="81.25" fill="#000"/>
<rect x="251.30" y="632.50" width="1.60" height="81.25" fill="#000"/>
<rect x="270.35" y="632.50" width="1.60" height="81.25" fill="#000"/>
<rect x="213.20" y="712.15" width="1.60" height="28.15" fill="#000"/>
<rect x="251.30" y="712.15" width="1.60" height="28.15" fill="#000"/>
<text x="191.10" y="606.30" font-size="10" font-weight="bold" text-anchor="start" textLength="39.40" lengthAdjust="spacingAndGlyphs" stroke="#000" stroke-width="0.12">(2B4-Cx)</text>
<text x="190.20" y="628.40" font-size="10" font-weight="bold" text-anchor="start" textLength="59.90" lengthAdjust="spacingAndGlyphs" stroke="#000" stroke-width="0.12">R2-XI4-P1-Cx</text>
<text x="233.05" y="722.90" font-size="10" font-weight="bold" text-anchor="middle" textLength="27.00" lengthAdjust="spacingAndGlyphs" stroke="#000" stroke-width="0.25">C7-T5</text>
<text x="271.15" y="722.90" font-size="10" font-weight="bold" text-anchor="middle" textLength="27.00" lengthAdjust="spacingAndGlyphs" stroke="#000" stroke-width="0.25">C7-T6</text>
<text x="233.05" y="737.30" font-size="12.5" text-anchor="middle" textLength="21.70" lengthAdjust="spacingAndGlyphs" stroke="#000" stroke-width="0.3">23A</text>
<text x="271.15" y="737.30" font-size="12.5" font-weight="bold" text-anchor="middle" textLength="21.70" lengthAdjust="spacingAndGlyphs" stroke="#000" stroke-width="0.2">22B</text>
<rect x="434.80" y="589.70" width="37.80" height="13.40" fill="#f0ff00"/>
<rect x="472.60" y="589.70" width="37.80" height="13.40" fill="#55ff00"/>
<rect x="548.20" y="589.70" width="37.80" height="13.40" fill="#55ff00"/>
<rect x="586.00" y="589.70" width="37.80" height="13.40" fill="#f0ff00"/>
<rect x="396.00" y="456.20" width="228.80" height="2.00" fill="#000"/>
<rect x="396.00" y="602.10" width="228.80" height="2.00" fill="#000"/>
<rect x="396.00" y="456.20" width="2.00" height="147.90" fill="#000"/>
<rect x="622.80" y="456.20" width="2.00" height="147.90" fill="#000"/>
<rect x="509.40" y="456.20" width="2.00" height="147.90" fill="#000"/>
<rect x="396.40" y="496.30" width="228.00" height="1.20" fill="#000"/>
<rect x="396.00" y="575.55" width="228.80" height="2.00" fill="#000"/>
<rect x="415.10" y="496.10" width="1.60" height="81.25" fill="#000"/>
<rect x="434.00" y="496.10" width="1.60" height="81.25" fill="#000"/>
<rect x="452.90" y="496.10" width="1.60" height="81.25" fill="#000"/>
<rect x="471.80" y="496.10" width="1.60" height="81.25" fill="#000"/>
<rect x="490.70" y="496.10" width="1.60" height="81.25" fill="#000"/>
<rect x="434.00" y="575.75" width="1.60" height="28.15" fill="#000"/>
<rect x="471.80" y="575.75" width="1.60" height="28.15" fill="#000"/>
<text x="403.30" y="468.20" font-size="10" font-weight="bold" text-anchor="start" textLength="39.40" lengthAdjust="spacingAndGlyphs" stroke="#000" stroke-width="0.12">(1B1-Cx)</text>
<text x="403.30" y="492.20" font-size="10" font-weight="bold" text-anchor="start" textLength="59.90" lengthAdjust="spacingAndGlyphs" stroke="#000" stroke-width="0.12">R1-XI1-P1-Cx</text>
<text x="453.70" y="586.50" font-size="10" font-weight="bold" text-anchor="middle" textLength="27.00" lengthAdjust="spacingAndGlyphs" stroke="#000" stroke-width="0.25">C7-T5</text>
<text x="491.50" y="586.50" font-size="10" font-weight="bold" text-anchor="middle" textLength="27.00" lengthAdjust="spacingAndGlyphs" stroke="#000" stroke-width="0.25">C7-T6</text>
<text x="453.70" y="600.90" font-size="12.5" font-weight="bold" text-anchor="middle" textLength="21.70" lengthAdjust="spacingAndGlyphs" stroke="#000" stroke-width="0.2">16A</text>
<text x="491.50" y="600.90" font-size="12.5" font-weight="bold" text-anchor="middle" textLength="21.70" lengthAdjust="spacingAndGlyphs" stroke="#000" stroke-width="0.2">17B</text>
<rect x="528.50" y="496.10" width="1.60" height="81.25" fill="#000"/>
<rect x="547.40" y="496.10" width="1.60" height="81.25" fill="#000"/>
<rect x="566.30" y="496.10" width="1.60" height="81.25" fill="#000"/>
<rect x="585.20" y="496.10" width="1.60" height="81.25" fill="#000"/>
<rect x="604.10" y="496.10" width="1.60" height="81.25" fill="#000"/>
<rect x="547.40" y="575.75" width="1.60" height="28.15" fill="#000"/>
<rect x="585.20" y="575.75" width="1.60" height="28.15" fill="#000"/>
<text x="526.10" y="468.90" font-size="10" font-weight="bold" text-anchor="start" textLength="39.40" lengthAdjust="spacingAndGlyphs" stroke="#000" stroke-width="0.12">(1B2-Cx)</text>
<text x="526.10" y="491.50" font-size="10" font-weight="bold" text-anchor="start" textLength="59.90" lengthAdjust="spacingAndGlyphs" stroke="#000" stroke-width="0.12">R1-XI2-P1-Cx</text>
<text x="567.10" y="586.50" font-size="10" font-weight="bold" text-anchor="middle" textLength="27.00" lengthAdjust="spacingAndGlyphs" stroke="#000" stroke-width="0.25">C7-T5</text>
<text x="604.90" y="586.50" font-size="10" font-weight="bold" text-anchor="middle" textLength="27.00" lengthAdjust="spacingAndGlyphs" stroke="#000" stroke-width="0.25">C7-T6</text>
<text x="567.10" y="600.90" font-size="12.5" font-weight="bold" text-anchor="middle" textLength="21.70" lengthAdjust="spacingAndGlyphs" stroke="#000" stroke-width="0.2">17A</text>
<text x="604.90" y="600.90" font-size="12.5" font-weight="bold" text-anchor="middle" textLength="21.70" lengthAdjust="spacingAndGlyphs" stroke="#000" stroke-width="0.2">16B</text>
<rect x="434.80" y="748.80" width="37.80" height="13.40" fill="#ff80ff"/>
<rect x="472.60" y="748.80" width="37.80" height="13.40" fill="#5affff"/>
<rect x="548.20" y="748.80" width="37.80" height="13.40" fill="#5affff"/>
<rect x="586.00" y="748.80" width="37.80" height="13.40" fill="#ff80ff"/>
<rect x="396.00" y="615.30" width="228.80" height="2.00" fill="#000"/>
<rect x="396.00" y="761.20" width="228.80" height="2.00" fill="#000"/>
<rect x="396.00" y="615.30" width="2.00" height="147.90" fill="#000"/>
<rect x="622.80" y="615.30" width="2.00" height="147.90" fill="#000"/>
<rect x="509.40" y="615.30" width="2.00" height="147.90" fill="#000"/>
<rect x="396.40" y="655.40" width="228.00" height="1.20" fill="#000"/>
<rect x="396.00" y="734.65" width="228.80" height="2.00" fill="#000"/>
<rect x="415.10" y="655.20" width="1.60" height="81.25" fill="#000"/>
<rect x="434.00" y="655.20" width="1.60" height="81.25" fill="#000"/>
<rect x="452.90" y="655.20" width="1.60" height="81.25" fill="#000"/>
<rect x="471.80" y="655.20" width="1.60" height="81.25" fill="#000"/>
<rect x="490.70" y="655.20" width="1.60" height="81.25" fill="#000"/>
<rect x="434.00" y="734.85" width="1.60" height="28.15" fill="#000"/>
<rect x="471.80" y="734.85" width="1.60" height="28.15" fill="#000"/>
<text x="400.70" y="629.00" font-size="10" font-weight="bold" text-anchor="start" textLength="39.40" lengthAdjust="spacingAndGlyphs" stroke="#000" stroke-width="0.12">(1B3-Cx)</text>
<text x="401.00" y="652.80" font-size="10" font-weight="bold" text-anchor="start" textLength="59.90" lengthAdjust="spacingAndGlyphs" stroke="#000" stroke-width="0.12">R1-XI3-P1-Cx</text>
<text x="453.70" y="745.60" font-size="10" font-weight="bold" text-anchor="middle" textLength="27.00" lengthAdjust="spacingAndGlyphs" stroke="#000" stroke-width="0.25">C7-T5</text>
<text x="491.50" y="745.60" font-size="10" font-weight="bold" text-anchor="middle" textLength="27.00" lengthAdjust="spacingAndGlyphs" stroke="#000" stroke-width="0.25">C7-T6</text>
<text x="453.70" y="760.00" font-size="12.5" font-weight="bold" text-anchor="middle" textLength="21.70" lengthAdjust="spacingAndGlyphs" stroke="#000" stroke-width="0.2">18A</text>
<text x="491.50" y="760.00" font-size="12.5" font-weight="bold" text-anchor="middle" textLength="21.70" lengthAdjust="spacingAndGlyphs" stroke="#000" stroke-width="0.2">19B</text>
<rect x="528.50" y="655.20" width="1.60" height="81.25" fill="#000"/>
<rect x="547.40" y="655.20" width="1.60" height="81.25" fill="#000"/>
<rect x="566.30" y="655.20" width="1.60" height="81.25" fill="#000"/>
<rect x="585.20" y="655.20" width="1.60" height="81.25" fill="#000"/>
<rect x="604.10" y="655.20" width="1.60" height="81.25" fill="#000"/>
<rect x="547.40" y="734.85" width="1.60" height="28.15" fill="#000"/>
<rect x="585.20" y="734.85" width="1.60" height="28.15" fill="#000"/>
<text x="525.30" y="629.00" font-size="10" font-weight="bold" text-anchor="start" textLength="39.40" lengthAdjust="spacingAndGlyphs" stroke="#000" stroke-width="0.12">(1B4-Cx)</text>
<text x="525.70" y="652.50" font-size="10" font-weight="bold" text-anchor="start" textLength="59.90" lengthAdjust="spacingAndGlyphs" stroke="#000" stroke-width="0.12">R1-XI4-P1-Cx</text>
<text x="567.10" y="745.60" font-size="10" font-weight="bold" text-anchor="middle" textLength="27.00" lengthAdjust="spacingAndGlyphs" stroke="#000" stroke-width="0.25">C7-T5</text>
<text x="604.90" y="745.60" font-size="10" font-weight="bold" text-anchor="middle" textLength="27.00" lengthAdjust="spacingAndGlyphs" stroke="#000" stroke-width="0.25">C7-T6</text>
<text x="567.10" y="760.00" font-size="12.5" font-weight="bold" text-anchor="middle" textLength="21.70" lengthAdjust="spacingAndGlyphs" stroke="#000" stroke-width="0.2">19A</text>
<text x="604.90" y="760.00" font-size="12.5" font-weight="bold" text-anchor="middle" textLength="21.70" lengthAdjust="spacingAndGlyphs" stroke="#000" stroke-width="0.2">18B</text>
<text x="668.80" y="370.00" font-size="11" font-weight="bold" text-anchor="start" textLength="113.00" lengthAdjust="spacingAndGlyphs" stroke="#000" stroke-width="0.35">Flash DA pair (rack 1)</text>
<text x="668.80" y="382.80" font-size="11" font-weight="bold" text-anchor="start" textLength="61.70" lengthAdjust="spacingAndGlyphs" stroke="#000" stroke-width="0.35">color codes</text>
<rect x="674.00" y="401.70" width="17.20" height="12.80" fill="#f0ff00"/>
<rect x="674.00" y="414.50" width="17.20" height="12.70" fill="#55ff00"/>
<rect x="674.00" y="427.20" width="17.20" height="12.80" fill="#ff80ff"/>
<rect x="674.00" y="440.00" width="17.20" height="12.30" fill="#5affff"/>
<rect x="673.20" y="400.90" width="18.80" height="1.60" fill="#000"/>
<rect x="673.20" y="413.70" width="18.80" height="1.60" fill="#000"/>
<rect x="673.20" y="426.40" width="18.80" height="1.60" fill="#000"/>
<rect x="673.20" y="439.20" width="18.80" height="1.60" fill="#000"/>
<rect x="673.20" y="451.50" width="18.80" height="1.60" fill="#000"/>
<rect x="673.20" y="400.90" width="1.60" height="52.20" fill="#000"/>
<rect x="690.40" y="400.90" width="1.60" height="52.20" fill="#000"/>
<text x="695.70" y="410.80" font-size="11" text-anchor="start" textLength="54.30" lengthAdjust="spacingAndGlyphs" stroke="#000" stroke-width="0.15">DA Pair 16</text>
<text x="695.70" y="423.90" font-size="11" text-anchor="start" textLength="54.30" lengthAdjust="spacingAndGlyphs" stroke="#000" stroke-width="0.15">DA Pair 17</text>
<text x="695.70" y="438.60" font-size="11" text-anchor="start" textLength="54.30" lengthAdjust="spacingAndGlyphs" stroke="#000" stroke-width="0.15">DA Pair 18</text>
<text x="695.70" y="451.90" font-size="11" text-anchor="start" textLength="54.30" lengthAdjust="spacingAndGlyphs" stroke="#000" stroke-width="0.15">DA Pair 19</text>
<text x="672.70" y="481.70" font-size="11" font-weight="bold" text-anchor="start" textLength="114.30" lengthAdjust="spacingAndGlyphs" stroke="#000" stroke-width="0.35">Flash DA pair (rack 2)</text>
<text x="672.70" y="494.50" font-size="11" font-weight="bold" text-anchor="start" textLength="61.70" lengthAdjust="spacingAndGlyphs" stroke="#000" stroke-width="0.35">color codes</text>
<rect x="674.00" y="509.40" width="17.20" height="13.40" fill="#ff8800"/>
<rect x="674.00" y="522.80" width="17.20" height="13.60" fill="#b995ff"/>
<rect x="674.00" y="536.40" width="17.20" height="13.40" fill="#bcd0c4"/>
<rect x="674.00" y="549.80" width="17.20" height="13.10" fill="#ff0000"/>
<rect x="673.20" y="508.60" width="18.80" height="1.60" fill="#000"/>
<rect x="673.20" y="522.00" width="18.80" height="1.60" fill="#000"/>
<rect x="673.20" y="535.60" width="18.80" height="1.60" fill="#000"/>
<rect x="673.20" y="549.00" width="18.80" height="1.60" fill="#000"/>
<rect x="673.20" y="562.10" width="18.80" height="1.60" fill="#000"/>
<rect x="673.20" y="508.60" width="1.60" height="55.10" fill="#000"/>
<rect x="690.40" y="508.60" width="1.60" height="55.10" fill="#000"/>
<text x="696.50" y="520.80" font-size="11" text-anchor="start" textLength="54.30" lengthAdjust="spacingAndGlyphs" stroke="#000" stroke-width="0.15">DA Pair 20</text>
<text x="696.50" y="534.70" font-size="11" text-anchor="start" textLength="54.30" lengthAdjust="spacingAndGlyphs" stroke="#000" stroke-width="0.15">DA Pair 21</text>
<text x="696.50" y="548.00" font-size="11" text-anchor="start" textLength="54.30" lengthAdjust="spacingAndGlyphs" stroke="#000" stroke-width="0.15">DA Pair 22</text>
<text x="696.50" y="561.90" font-size="11" text-anchor="start" textLength="54.30" lengthAdjust="spacingAndGlyphs" stroke="#000" stroke-width="0.15">DA Pair 23</text>
<rect x="22.40" y="69.30" width="307.30" height="2.40" fill="#000"/>
<rect x="22.40" y="782.30" width="307.30" height="2.40" fill="#000"/>
<rect x="22.40" y="69.30" width="2.40" height="715.40" fill="#000"/>
<rect x="327.30" y="69.30" width="2.40" height="715.40" fill="#000"/>
<rect x="357.30" y="71.50" width="305.70" height="2.40" fill="#000"/>
<rect x="357.30" y="780.40" width="305.70" height="2.40" fill="#000"/>
<rect x="357.30" y="71.50" width="2.40" height="711.30" fill="#000"/>
<rect x="660.60" y="71.50" width="2.40" height="711.30" fill="#000"/>
<text x="0" y="0" font-size="11" text-anchor="start" textLength="37.3" lengthAdjust="spacingAndGlyphs" transform="translate(794.5 787.2) rotate(-90)">f2c02439</text>
</svg>
</body></html>
